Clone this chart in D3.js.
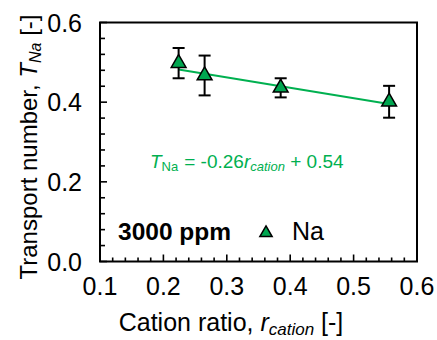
<!DOCTYPE html>
<html>
<head>
<meta charset="utf-8">
<script src="https://cdn.jsdelivr.net/npm/d3@7"></script>
<style>
  html, body { margin: 0; padding: 0; background: #fff; }
  svg { display: block; font-family: "Liberation Sans", Arial, sans-serif; }
</style>
</head>
<body>
<svg id="chart" width="437" height="340"></svg>
<script>
// Transport number of Na versus cation ratio at 3000 ppm
const cationRatio = [0.224, 0.265, 0.385, 0.556];
const transportNa = [0.498, 0.467, 0.436, 0.401];
const errorNa = [0.038, 0.050, 0.024, 0.040];
const xTicks = [0.1, 0.2, 0.3, 0.4, 0.5, 0.6];
const yTicks = [0.0, 0.2, 0.4, 0.6];
const fitSlope = -0.26;
const fitIntercept = 0.54;

const svg = d3.select("#chart");
const m = { left: 100, right: 417, top: 22.5, bottom: 261.5 };

const x = d3.scaleLinear().domain([0.1, 0.6]).range([m.left, m.right]);
const y = d3.scaleLinear().domain([0, 0.6]).range([m.bottom, m.top]);

const green = "#00B050";
const markerFill = "#00A650";

// Minor and major ticks pointing into the plot
const xMinor = d3.range(0.1, 0.6001, 0.02);
const yMinor = d3.range(0, 0.6001, 0.04);
const isMajor = (v, step) => Math.abs(v / step - Math.round(v / step)) < 1e-6;

svg.append("g").selectAll("line").data(xMinor).join("line")
  .attr("x1", d => x(d)).attr("x2", d => x(d))
  .attr("y1", m.bottom).attr("y2", d => m.bottom - (isMajor(d, 0.1) ? 7 : 4))
  .attr("stroke", "#000").attr("stroke-width", 1.6);

svg.append("g").selectAll("line").data(yMinor).join("line")
  .attr("y1", d => y(d)).attr("y2", d => y(d))
  .attr("x1", m.left).attr("x2", d => m.left + (isMajor(d, 0.2) ? 7 : 5))
  .attr("stroke", "#000").attr("stroke-width", 1.6);

// Frame
svg.append("rect")
  .attr("x", m.left).attr("y", m.top)
  .attr("width", m.right - m.left).attr("height", m.bottom - m.top)
  .attr("fill", "none").attr("stroke", "#000").attr("stroke-width", 2);

// Tick labels
svg.append("g").selectAll("text").data(xTicks).join("text")
  .attr("x", d => x(d)).attr("y", 295)
  .attr("text-anchor", "middle").attr("font-size", 25)
  .text(d => d.toFixed(1));

svg.append("g").selectAll("text").data(yTicks).join("text")
  .attr("x", 82).attr("y", d => y(d) + 9)
  .attr("text-anchor", "end").attr("font-size", 25)
  .text(d => d.toFixed(1));

// Axis titles
const xt = svg.append("text").attr("x", 231).attr("y", 331)
  .attr("text-anchor", "middle").attr("font-size", 25);
xt.append("tspan").text("Cation ratio, ");
xt.append("tspan").attr("font-style", "italic").text("r");
xt.append("tspan").attr("font-style", "italic").attr("font-size", 17).attr("dy", 4).text("cation");
xt.append("tspan").attr("dy", -4).text(" [-]");

const yt = svg.append("text")
  .attr("transform", "translate(37,147) rotate(-90)")
  .attr("text-anchor", "middle").attr("font-size", 24);
yt.append("tspan").text("Transport number, ");
yt.append("tspan").attr("font-style", "italic").text("T");
yt.append("tspan").attr("font-style", "italic").attr("font-size", 16).attr("dy", 4).text("Na");
yt.append("tspan").attr("dy", -4).text(" [-]");

// Linear fit
const fitX = d3.extent(cationRatio);
svg.append("line")
  .attr("x1", x(fitX[0])).attr("y1", y(fitSlope * fitX[0] + fitIntercept))
  .attr("x2", x(fitX[1])).attr("y2", y(fitSlope * fitX[1] + fitIntercept))
  .attr("stroke", green).attr("stroke-width", 2);

// Error bars
const pts = cationRatio.map((r, i) => ({ r, t: transportNa[i], e: errorNa[i] }));
const eb = svg.append("g").attr("stroke", "#000").attr("stroke-width", 2);
eb.selectAll(".v").data(pts).join("line")
  .attr("x1", d => x(d.r)).attr("x2", d => x(d.r))
  .attr("y1", d => y(d.t - d.e)).attr("y2", d => y(d.t + d.e));
eb.selectAll(".top").data(pts).join("line")
  .attr("x1", d => x(d.r) - 6).attr("x2", d => x(d.r) + 6)
  .attr("y1", d => y(d.t + d.e)).attr("y2", d => y(d.t + d.e));
eb.selectAll(".bot").data(pts).join("line")
  .attr("x1", d => x(d.r) - 6).attr("x2", d => x(d.r) + 6)
  .attr("y1", d => y(d.t - d.e)).attr("y2", d => y(d.t - d.e));

// Triangle markers
const tri = d3.symbol().type(d3.symbolTriangle).size(95);
svg.append("g").selectAll("path").data(pts).join("path")
  .attr("d", tri)
  .attr("transform", d => `translate(${x(d.r)},${y(d.t)})`)
  .attr("fill", markerFill).attr("stroke", "#000").attr("stroke-width", 1.5);

// Fit equation
const eq = svg.append("text").attr("x", 150).attr("y", 168)
  .attr("font-size", 19).attr("fill", green);
eq.append("tspan").attr("font-style", "italic").text("T");
eq.append("tspan").attr("font-size", 13).attr("dy", 3).text("Na");
eq.append("tspan").attr("dy", -3).attr("dx", 6).text("= " + fitSlope.toFixed(2));
eq.append("tspan").attr("font-style", "italic").text("r");
eq.append("tspan").attr("font-style", "italic").attr("font-size", 13).attr("dy", 3).text("cation");
eq.append("tspan").attr("dy", -3).text(" + " + fitIntercept.toFixed(2));

// Legend
svg.append("text").attr("x", 118).attr("y", 240)
  .attr("font-size", 24.5).attr("font-weight", "bold").text("3000 ppm");
const triSmall = d3.symbol().type(d3.symbolTriangle).size(65);
svg.append("path").attr("d", triSmall)
  .attr("transform", "translate(266,233)")
  .attr("fill", markerFill).attr("stroke", "#000").attr("stroke-width", 1.5);
svg.append("text").attr("x", 292).attr("y", 240)
  .attr("font-size", 25).text("Na");
</script>
</body>
</html>
